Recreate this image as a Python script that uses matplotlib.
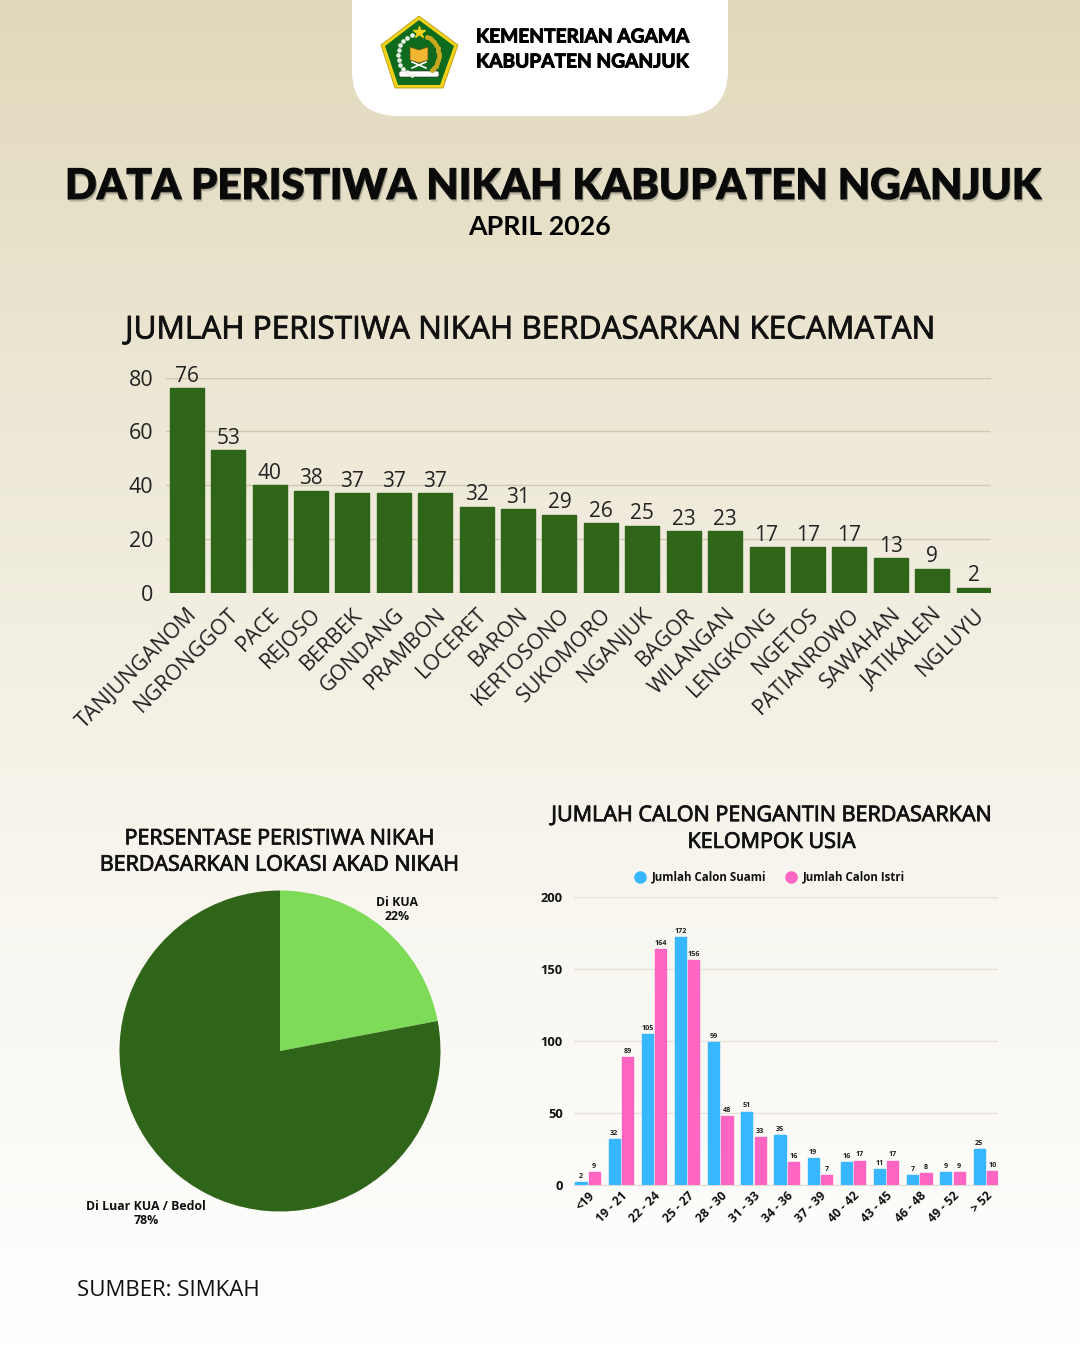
import numpy as np
import matplotlib
matplotlib.use("Agg")
import matplotlib.pyplot as plt
import matplotlib.patheffects as pe
from matplotlib.colors import LinearSegmentedColormap
from matplotlib.patches import FancyBboxPatch, Polygon

# data
kecamatan = ["TANJUNGANOM", "NGRONGGOT", "PACE", "REJOSO", "BERBEK", "GONDANG", "PRAMBON",
             "LOCERET", "BARON", "KERTOSONO", "SUKOMORO", "NGANJUK", "BAGOR", "WILANGAN",
             "LENGKONG", "NGETOS", "PATIANROWO", "SAWAHAN", "JATIKALEN", "NGLUYU"]
jumlah_nikah = [76, 53, 40, 38, 37, 37, 37, 32, 31, 29, 26, 25, 23, 23, 17, 17, 17, 13, 9, 2]

lokasi = ["Di KUA", "Di Luar KUA / Bedol"]
persen_lokasi = [22, 78]

usia = ["<19", "19 - 21", "22 - 24", "25 - 27", "28 - 30", "31 - 33", "34 - 36",
        "37 - 39", "40 - 42", "43 - 45", "46 - 48", "49 - 52", "> 52"]
suami = [2, 32, 105, 172, 99, 51, 35, 19, 16, 11, 7, 9, 25]
istri = [9, 89, 164, 156, 48, 33, 16, 7, 17, 17, 8, 9, 10]

W, H = 1080, 1350
HIJAU = "#2F6518"
HIJAU_MUDA = "#7EDB57"
BIRU = "#38B6FF"
PINK = "#FF66C4"
TEKS = "#111111"
LATO = ["Lato", "DejaVu Sans"]

plt.rcParams["font.family"] = ["Open Sans", "DejaVu Sans"]

fig = plt.figure(figsize=(W / 100, H / 100), dpi=100)


def px_axes(x0, y0, x1, y1):
    # pixel box, y counted from the top
    return fig.add_axes([x0 / W, 1 - y1 / H, (x1 - x0) / W, (y1 - y0) / H])


def tebal(teks, lebar=0.5, warna=TEKS):
    # the fonts here are thinner than the original, so thicken with a stroke
    teks.set_path_effects([pe.withStroke(linewidth=lebar, foreground=warna)])


# background and header
bg = fig.add_axes([0, 0, 1, 1])
cmap = LinearSegmentedColormap.from_list("bg", ["#E1D9BC", "#EEE9D8", "#F8F6EF", "#FFFFFF"])
bg.imshow(np.linspace(0, 1, 1350).reshape(-1, 1), aspect="auto", cmap=cmap, extent=[0, W, H, 0])
bg.set_xlim(0, W)
bg.set_ylim(H, 0)
bg.axis("off")

bg.add_patch(FancyBboxPatch((352, -80), 376, 196, boxstyle="round,pad=0,rounding_size=46",
                            fc="white", ec="none"))

# logo
bg.add_patch(Polygon([(419, 16), (458, 45), (443, 88), (395, 88), (381, 45)], fc="#F2D21B", ec="#B79A10", lw=0.6))
bg.add_patch(Polygon([(419, 20), (454, 46), (440, 85), (398, 85), (385, 46)], fc="#0E6B1E", ec="none"))
bg.plot([419], [32], marker="*", ms=9, color="#F2D21B", ls="none")
t = np.radians(np.arange(110, 255, 14))
bg.scatter(419 + 21 * np.cos(t), 55 - 21 * np.sin(t), s=11, color="#EDF3E6", lw=0, zorder=3)
t = np.radians(np.arange(-50, 75, 9))
bg.scatter(419 + 20 * np.cos(t), 55 - 20 * np.sin(t), s=13, color="#C9A820", lw=0, zorder=3)
bg.add_patch(Polygon([(410, 47), (419, 50), (428, 47), (428, 60), (419, 63), (410, 60)], fc="#F2B632", ec="#6B4E0A", lw=0.5))
bg.plot([412, 426], [62, 68], color="white", lw=1.2)
bg.plot([426, 412], [62, 68], color="white", lw=1.2)
bg.add_patch(FancyBboxPatch((399, 71), 40, 6, boxstyle="round,pad=0,rounding_size=2", fc="white", ec="#222222", lw=0.4))

for yy, baris in [(37, "KEMENTERIAN AGAMA"), (62, "KABUPATEN NGANJUK")]:
    tebal(bg.text(476, yy, baris, fontsize=13.8, fontweight="bold", family=LATO,
                  color="black", va="center", ha="left"), 0.7, "black")

# titles
judul = bg.text(551.5, 187, "DATA PERISTIWA NIKAH KABUPATEN NGANJUK", fontsize=30.2, fontweight="black",
                family=LATO, color="#0A0A0A", ha="center", va="center")
judul.set_path_effects([pe.withStroke(linewidth=1.0, foreground="#0A0A0A"),
                        pe.withSimplePatchShadow(offset=(1, -2), shadow_rgbFace="#8A8A7A", alpha=0.5)])
bg.text(540, 227, "APRIL 2026", fontsize=19.3, fontweight="bold", family=LATO,
        color="black", ha="center", va="center")
tebal(bg.text(530, 330, "JUMLAH PERISTIWA NIKAH BERDASARKAN KECAMATAN", fontsize=22.7,
              color=TEKS, ha="center", va="center"), 0.6)
tebal(bg.text(280, 852, "PERSENTASE PERISTIWA NIKAH\nBERDASARKAN LOKASI AKAD NIKAH", fontsize=15.45,
              color=TEKS, ha="center", va="center", linespacing=1.33), 0.6)
tebal(bg.text(771.5, 829, "JUMLAH CALON PENGANTIN BERDASARKAN\nKELOMPOK USIA", fontsize=15.5,
              color=TEKS, ha="center", va="center", linespacing=1.36), 0.6)
bg.text(77, 1290, "SUMBER: SIMKAH", fontsize=16, color=TEKS, ha="left", va="center")

# kecamatan bars
ax1 = px_axes(166, 377.5, 991, 593)
x1 = np.arange(len(kecamatan))
bars1 = ax1.bar(x1, jumlah_nikah, width=0.82, color=HIJAU, edgecolor=HIJAU, linewidth=1,
                joinstyle="round", zorder=3)
ax1.bar_label(bars1, padding=1, fontsize=15, color="#222222")
ax1.set_xlim(-0.5, 19.42)
ax1.set_ylim(0, 80)
ax1.set_yticks([0, 20, 40, 60, 80])
ax1.set_xticks(x1)
ax1.set_xticklabels(kecamatan, rotation=45, ha="right", rotation_mode="anchor")
ax1.tick_params(length=0, labelsize=15.5, labelcolor="#222222")
ax1.tick_params(axis="x", pad=8)
ax1.tick_params(axis="y", pad=9)
ax1.grid(axis="y", color="#CFCAB4", lw=1)
ax1.set_axisbelow(True)
ax1.patch.set_alpha(0)
for s in ax1.spines.values():
    s.set_visible(False)

# pie
ax2 = px_axes(119.5, 890.5, 440.5, 1211.5)
ax2.pie(persen_lokasi, colors=[HIJAU_MUDA, HIJAU], startangle=90, counterclock=False, radius=1)
ax2.set_xlim(-1, 1)
ax2.set_ylim(-1, 1)
bg.text(397, 910, lokasi[0] + "\n%d%%" % persen_lokasi[0], fontsize=8.9, fontweight="bold",
        color=TEKS, ha="center", va="center", linespacing=1.1)
bg.text(146, 1214, lokasi[1] + "\n%d%%" % persen_lokasi[1], fontsize=8.9, fontweight="bold",
        color=TEKS, ha="center", va="center", linespacing=1.1)

# usia bars
ax3 = px_axes(574, 897, 998.5, 1185)
x3 = np.arange(len(usia))
b_suami = ax3.bar(x3 - 0.2, suami, width=0.335, color=BIRU, edgecolor=BIRU, linewidth=1,
                  joinstyle="round", zorder=3)
b_istri = ax3.bar(x3 + 0.2, istri, width=0.335, color=PINK, edgecolor=PINK, linewidth=1,
                  joinstyle="round", zorder=3)
ax3.bar_label(b_suami, padding=1.5, fontsize=5.2, fontweight="bold", color="#222222")
ax3.bar_label(b_istri, padding=1.5, fontsize=5.2, fontweight="bold", color="#222222")
ax3.set_xlim(-0.41, 12.385)
ax3.set_ylim(0, 200)
ax3.set_yticks([0, 50, 100, 150, 200])
ax3.set_xticks(x3)
ax3.set_xticklabels(usia, rotation=45, ha="right", rotation_mode="anchor")
ax3.tick_params(axis="x", length=0, labelsize=8.7, labelcolor="#111111", pad=3)
ax3.tick_params(axis="y", length=0, labelsize=9.3, labelcolor="#111111", pad=8)
for lab in ax3.get_xticklabels() + ax3.get_yticklabels():
    lab.set_fontweight("bold")
ax3.grid(axis="y", color="#E6E2D6", lw=1)
ax3.set_axisbelow(True)
ax3.patch.set_alpha(0)
for s in ax3.spines.values():
    s.set_visible(False)
ax3.spines["bottom"].set_visible(True)
ax3.spines["bottom"].set_color("#E0DDD2")

bg.plot([640], [877], "o", ms=8, color=BIRU)
bg.text(652, 877, "Jumlah Calon Suami", fontsize=8.3, fontweight="bold", color=TEKS, va="center")
bg.plot([791], [877], "o", ms=8, color=PINK)
bg.text(803, 877, "Jumlah Calon Istri", fontsize=8.3, fontweight="bold", color=TEKS, va="center")

fig.savefig("out.png", dpi=100)
